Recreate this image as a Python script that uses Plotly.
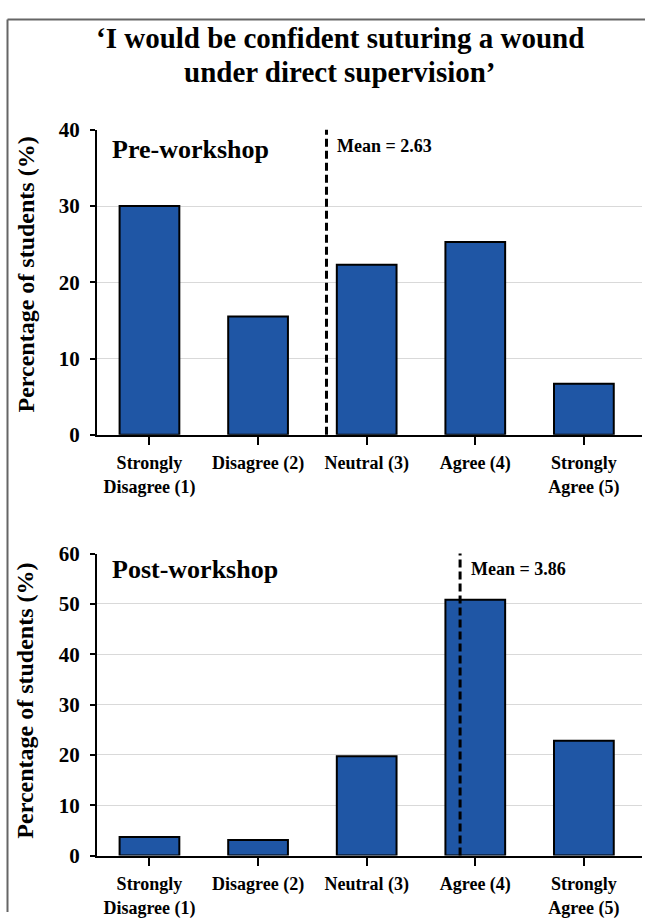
import plotly.graph_objects as go

# ---------------- data ----------------
categories = ["Strongly<br>Disagree (1)", "Disagree (2)", "Neutral (3)", "Agree (4)", "Strongly<br>Agree (5)"]
pre_values = [30.0, 15.5, 22.3, 25.3, 6.7]
post_values = [3.7, 3.1, 19.7, 50.8, 22.8]
means = [2.63, 3.86]
panel_labels = ["Pre-workshop", "Post-workshop"]
y_ticks_pre = [0, 10, 20, 30, 40]
y_ticks_post = [0, 10, 20, 30, 40, 50, 60]
title_lines = ["\u2018I would be confident suturing a wound", "under direct supervision\u2019"]
y_title = "Percentage of students (%)"

W, H = 645, 924
FONT = "Liberation Serif, Times New Roman, serif"
BAR = "#1f56a5"

def px(x):
    return x / W

def py(y):
    return 1 - y / H

fig = go.Figure()
xpos = list(range(len(categories)))

fig.add_trace(go.Bar(x=xpos, y=pre_values, width=0.55, xaxis="x", yaxis="y",
                     marker=dict(color=BAR, line=dict(color="black", width=2)),
                     showlegend=False, hoverinfo="skip"))
fig.add_trace(go.Bar(x=xpos, y=post_values, width=0.55, xaxis="x2", yaxis="y2",
                     marker=dict(color=BAR, line=dict(color="black", width=2)),
                     showlegend=False, hoverinfo="skip"))

xr = [-0.483, 4.535]
xdom = [px(97), px(642)]
common_x = dict(range=xr, tickvals=xpos, ticktext=categories, showgrid=False, zeroline=False,
                showline=True, linecolor="black", linewidth=2, ticks="outside", ticklen=8,
                tickwidth=2, tickcolor="black", ticklabelstandoff=3,
                tickfont=dict(family=FONT, size=18, color="black", weight="bold"),
                domain=xdom, fixedrange=True)
common_y = dict(showgrid=True, gridcolor="#d9d9d9", gridwidth=1, zeroline=False,
                showline=True, linecolor="black", linewidth=2, ticks="outside", ticklen=5,
                tickwidth=2, tickcolor="black", ticklabelstandoff=6,
                tickfont=dict(family=FONT, size=21, color="black", weight="bold"),
                fixedrange=True)

fig.update_layout(
    width=W, height=H, margin=dict(l=0, r=0, t=0, b=0),
    paper_bgcolor="white", plot_bgcolor="white", bargap=0,
    xaxis=dict(**common_x, anchor="y"),
    yaxis=dict(**common_y, range=[0, 40], tickvals=y_ticks_pre, domain=[py(434), py(121)], anchor="x"),
    xaxis2=dict(**common_x, anchor="y2"),
    yaxis2=dict(**common_y, range=[0, 60], tickvals=y_ticks_post, domain=[py(866), py(556)], anchor="x2"),
)

shapes = []
annotations = []

# figure frame (top and left only)
shapes.append(dict(type="line", xref="paper", yref="paper", x0=px(7.5), x1=1, y0=py(7.7), y1=py(7.7),
                   line=dict(color="#666666", width=2)))
shapes.append(dict(type="line", xref="paper", yref="paper", x0=px(7.5), x1=px(7.5), y0=py(7.7), y1=0,
                   line=dict(color="#666666", width=2)))

# mean lines
for i, (xa, ya) in enumerate([("x", "y"), ("x2", "y2")]):
    m = means[i]
    shapes.append(dict(type="line", xref=xa, yref=ya + " domain", x0=m - 1, x1=m - 1, y0=0, y1=1,
                       line=dict(color="black", width=3, dash="8px,4px")))

# title
annotations.append(dict(text="<b>%s</b>" % title_lines[0], xref="paper", yref="paper", x=px(340), y=py(27),
                        xanchor="center", yanchor="middle", showarrow=False,
                        font=dict(family=FONT, size=29, color="black")))
annotations.append(dict(text="<b>%s</b>" % title_lines[1], xref="paper", yref="paper", x=px(340), y=py(62),
                        xanchor="center", yanchor="middle", showarrow=False,
                        font=dict(family=FONT, size=29, color="black")))

# y titles
for yc in [269.5, 707]:
    annotations.append(dict(text="<b>%s</b>" % y_title, xref="paper", yref="paper", x=px(25), y=py(yc),
                            xanchor="center", yanchor="middle", textangle=-90, showarrow=False,
                            font=dict(family=FONT, size=24, color="black")))

# panel labels
for lab, yc in zip(panel_labels, [141, 572]):
    annotations.append(dict(text="<b>%s</b>" % lab, xref="paper", yref="paper", x=px(110), y=py(yc),
                            xanchor="left", yanchor="middle", showarrow=False,
                            font=dict(family=FONT, size=26, color="black")))

# mean labels
for i, (xa, yc) in enumerate([("x", 138), ("x2", 571.5)]):
    m = means[i]
    annotations.append(dict(text="<b>Mean = %.2f</b>" % m, xref=xa, yref="paper", x=m - 1, y=py(yc),
                            xanchor="left", yanchor="middle", xshift=9, showarrow=False,
                            font=dict(family=FONT, size=18, color="black")))

fig.update_layout(shapes=shapes, annotations=annotations)
fig.write_html("out.html", config={"displayModeBar": False, "staticPlot": True},
               post_script="document.body.style.margin='0';document.body.style.overflow='hidden';")
